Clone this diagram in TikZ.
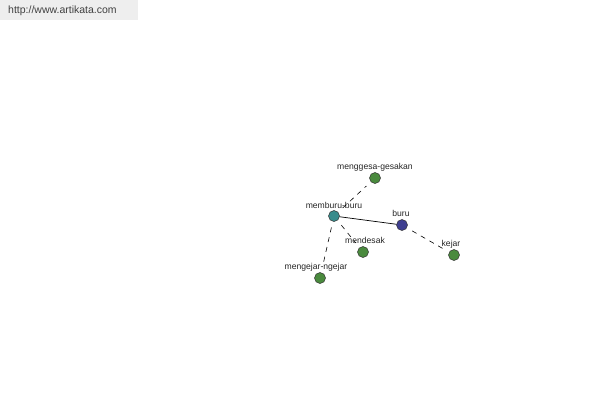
\documentclass[tikz,border=0pt]{standalone}
\usepackage{fontspec}
\setmainfont{Liberation Sans}
\usepackage{tikz}
\usetikzlibrary{positioning,calc}

\definecolor{leafgreen}{HTML}{4A8A3E}
\definecolor{rootteal}{HTML}{3A8C8C}
\definecolor{hubblue}{HTML}{3E3E90}
\definecolor{headgray}{HTML}{EEEEEE}

\begin{document}
\begin{tikzpicture}[
  x=1pt, y=-1pt,
  wordnode/.style={
    circle, draw=black!80, line width=0.5pt, inner sep=0pt,
    minimum size=11pt, fill=leafgreen
  },
  wordlabel/.style={font=\fontsize{8.6}{9}\selectfont, text=black!85, inner sep=0pt},
  solidlink/.style={line width=0.7pt, black},
  dashlink/.style={line width=0.6pt, black, dash pattern=on 5pt off 5pt,
    shorten <=6pt, shorten >=6pt}
]

% ---- Canvas ----
\useasboundingbox[fill=white] (0,0) rectangle (600,400);
\fill[headgray] (0,0) rectangle (138,20);
\node[font=\fontsize{10.5}{12}\selectfont, text=black!75, anchor=west, inner sep=0pt]
  (site) at (8,11) {http://www.artikata.com};

% ---- Word nodes ----
\node[wordnode, fill=rootteal] (mem) at (334,216) {};
\node[wordnode, fill=hubblue]  (buru) at (402,225) {};
\node[wordnode] (ges) at (375,178) {};
\node[wordnode] (des) at (363,252) {};
\node[wordnode] (kej) at (454,255) {};
\node[wordnode] (nge) at (320,278) {};

% ---- Labels ----
\node[wordlabel] (memlbl)  at (334,205) {memburu-buru};
\node[wordlabel] (burulbl) at (401,213) {buru};
\node[wordlabel] (geslbl)  at (375,167) {menggesa-gesakan};
\node[wordlabel] (deslbl)  at (365,240) {mendesak};
\node[wordlabel] (kejlbl)  at (451,244) {kejar};
\node[wordlabel] (ngelbl)  at (316,267) {mengejar-ngejar};

% ---- Links ----
\draw[solidlink] (mem) -- (buru);
\draw[dashlink] (mem) -- (ges);
\draw[dashlink] (mem) -- (des);
\draw[dashlink] (mem) -- (nge);
\draw[dashlink] (buru) -- (kej);

\end{tikzpicture}
\end{document}
